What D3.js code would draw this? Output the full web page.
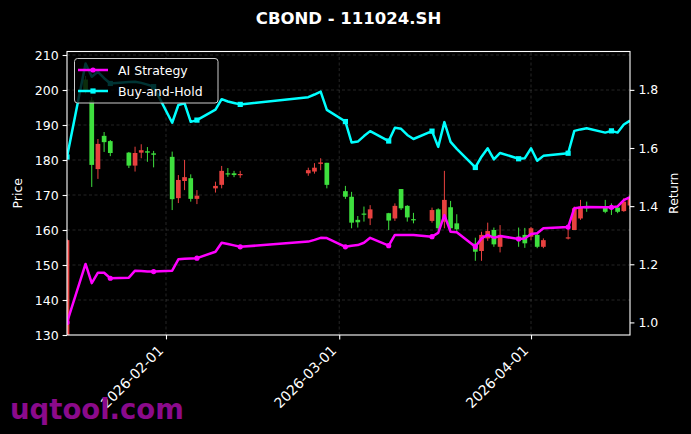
<!DOCTYPE html>
<html><head><meta charset="utf-8">
<script src="https://cdn.jsdelivr.net/npm/d3@7"></script>
<style>body{margin:0;background:#000;} svg{display:block;font-family:"DejaVu Sans",sans-serif;}</style>
</head><body>
<svg id="c" width="691" height="434"></svg>
<script>
const titleText = "CBOND - 111024.SH";
const dates = ["2026-01-16","2026-01-19","2026-01-20","2026-01-21","2026-01-22","2026-01-23",
"2026-01-26","2026-01-27","2026-01-28","2026-01-29","2026-01-30",
"2026-02-02","2026-02-03","2026-02-04","2026-02-05","2026-02-06",
"2026-02-09","2026-02-10","2026-02-11","2026-02-12","2026-02-13",
"2026-02-24","2026-02-25","2026-02-26","2026-02-27",
"2026-03-02","2026-03-03","2026-03-04","2026-03-05","2026-03-06",
"2026-03-09","2026-03-10","2026-03-11","2026-03-12","2026-03-13",
"2026-03-16","2026-03-17","2026-03-18","2026-03-19","2026-03-20",
"2026-03-23","2026-03-24","2026-03-25","2026-03-26","2026-03-27",
"2026-03-30","2026-03-31","2026-04-01","2026-04-02","2026-04-03",
"2026-04-07","2026-04-08","2026-04-09","2026-04-10",
"2026-04-13","2026-04-14","2026-04-15","2026-04-16","2026-04-17"];
const openP  = [157.1,200.0,178.6,184.6,185.1,182.0,178.4,182.0,182.8,182.1,181.5,
168.8,174.3,175.1,168.9,169.8,172.6,176.9,176.0,175.7,176.0,
177.1,177.8,179.3,172.9,169.5,162.1,162.2,164.5,165.9,
162.7,166.9,166.2,163.6,162.8,165.7,160.5,168.6,160.5,160.2,
153.8,158.6,159.7,155.9,158.6,157.4,156.2,160.5,155.2,157.1,
157.9,166.2,166.7,166.2,165.2,166.0,165.2,168.1,169.0];
const highP  = [157.5,204.0,198.0,186.0,188.0,185.7,182.3,183.8,184.5,183.7,182.6,
182.4,175.7,180.0,175.9,171.4,173.8,178.3,177.7,176.9,176.9,
177.8,179.1,180.5,179.2,172.6,170.9,164.0,166.7,167.1,
164.9,167.6,171.7,167.1,164.9,166.4,166.2,176.9,168.3,164.5,
157.8,159.5,162.1,160.7,161.4,160.7,160.6,160.9,159.1,157.6,
160.5,166.7,168.6,168.1,168.6,167.6,167.1,169.1,170.0];
const lowP   = [120.0,199.0,172.3,174.6,182.3,181.1,177.7,176.7,180.5,179.5,177.9,
165.7,167.7,171.4,168.1,167.4,170.7,171.9,175.2,175.1,174.9,
175.5,176.1,177.1,171.9,168.9,160.5,160.7,162.4,161.4,
160.0,162.6,165.7,162.4,161.9,162.1,160.0,160.5,159.5,159.5,
151.2,151.2,156.9,155.2,153.6,155.2,154.9,157.1,154.8,154.8,
157.3,160.0,162.9,165.2,164.8,164.3,164.8,165.2,166.0];
const closeP = [125.0,203.0,197.0,177.4,186.9,185.4,182.1,178.4,182.1,182.5,181.9,
180.9,169.1,174.0,174.8,168.9,171.9,172.9,176.2,176.2,175.8,
176.2,176.7,178.9,179.2,171.1,169.5,162.9,164.7,163.3,
164.8,163.3,171.7,166.9,163.1,162.6,165.9,162.4,166.5,161.9,
156.1,154.0,157.6,160.0,155.2,158.1,158.6,158.1,158.6,155.2,
157.6,160.0,163.3,166.7,166.4,166.7,166.4,165.4,167.0];
const aiReturn = [1.000,1.201,1.135,1.171,1.171,1.152,1.154,1.178,1.177,1.175,1.175,
1.178,1.217,1.219,1.220,1.221,1.243,1.274,1.270,1.265,1.260,
1.278,1.284,1.291,1.290,1.260,1.264,1.266,1.274,1.291,
1.264,1.301,1.301,1.301,1.301,1.295,1.308,1.369,1.312,1.310,
1.260,1.289,1.301,1.291,1.297,1.287,1.289,1.304,1.307,1.324,
1.328,1.393,1.395,1.397,1.396,1.396,1.399,1.421,1.431];
const bhReturn = [1.569,1.891,1.845,1.862,1.840,1.822,1.827,1.828,1.824,1.818,1.811,
1.687,1.748,1.754,1.690,1.696,1.732,1.768,1.760,1.755,1.750,
1.775,1.784,1.794,1.731,1.691,1.619,1.622,1.641,1.658,
1.624,1.670,1.666,1.645,1.631,1.658,1.604,1.689,1.621,1.597,
1.533,1.570,1.599,1.561,1.583,1.563,1.565,1.599,1.556,1.573,
1.582,1.659,1.664,1.668,1.653,1.659,1.653,1.681,1.694];
const priceTicks = [130,140,150,160,170,180,190,200,210];
const returnTicks = [1.0,1.2,1.4,1.6,1.8];
const dateTicks = ["2026-02-01","2026-03-01","2026-04-01"];
const seriesNames = ["AI Strategy","Buy-and-Hold"];
const watermark = "uqtool.com";

const parse = d3.utcParse("%Y-%m-%d");
const D = dates.map(parse);
const svg = d3.select("#c");
svg.append("rect").attr("width",691).attr("height",434).attr("fill","#000");

const L=67, R=630, T=51.5, B=335;
const x = d3.scaleUtc().domain([parse("2026-01-16"), parse("2026-04-17")]).range([L,R]);
const yP = d3.scaleLinear().domain([130,211]).range([B,T]);
const yR = d3.scaleLinear().domain([0.9567,1.932]).range([B,T]);
const fs = 12.5, fsx = 14;

svg.append("defs").append("clipPath").attr("id","clip")
  .append("rect").attr("x",L).attr("y",T).attr("width",R-L).attr("height",B-T);

// grid
const grid = svg.append("g").attr("stroke","#b0b0b0").attr("stroke-opacity",0.3)
  .attr("stroke-width",0.7).attr("stroke-dasharray","3,2.5");
priceTicks.filter(v=>v>130&&v<211).forEach(v=>grid.append("line").attr("x1",L).attr("x2",R).attr("y1",yP(v)).attr("y2",yP(v)));
dateTicks.forEach(s=>grid.append("line").attr("y1",T).attr("y2",B).attr("x1",x(parse(s))).attr("x2",x(parse(s))));

// candles
const plot = svg.append("g").attr("clip-path","url(#clip)");
const half = 0.38*86400000;
const green="#3ee03e", red="#e8413f";
D.forEach((d,i)=>{
  const up = closeP[i]>=openP[i];
  const c = up?green:red;
  const g = plot.append("g");
  g.append("line").attr("x1",x(d)).attr("x2",x(d)).attr("y1",yP(highP[i])).attr("y2",yP(lowP[i]))
    .attr("stroke",c).attr("stroke-width",1);
  const x0=x(new Date(d.getTime()-half)), x1=x(new Date(d.getTime()+half));
  const top=yP(Math.max(openP[i],closeP[i])), bot=yP(Math.min(openP[i],closeP[i]));
  g.append("rect").attr("x",x0).attr("width",x1-x0).attr("y",top).attr("height",Math.max(bot-top,1.2)).attr("fill",c);
});

// lines
const lineAI = d3.line().x((v,i)=>x(D[i])).y(v=>yR(v));
plot.append("path").attr("d",lineAI(aiReturn)).attr("fill","none").attr("stroke","#ff00ff").attr("stroke-width",2.5).attr("stroke-linejoin","round");
plot.append("path").attr("d",lineAI(bhReturn)).attr("fill","none").attr("stroke","#00ffff").attr("stroke-width",2.5).attr("stroke-linejoin","round");
aiReturn.forEach((v,i)=>{ if(i%5===0) plot.append("circle").attr("cx",x(D[i])).attr("cy",yR(v)).attr("r",2.6).attr("fill","#ff00ff"); });
bhReturn.forEach((v,i)=>{ if(i%5===0) plot.append("rect").attr("x",x(D[i])-2.6).attr("y",yR(v)-2.6).attr("width",5.2).attr("height",5.2).attr("fill","#00ffff"); });

// frame
svg.append("rect").attr("x",L).attr("y",T).attr("width",R-L).attr("height",B-T).attr("fill","none").attr("stroke","#fff").attr("stroke-width",1.1);

function styleAxis(g){
  g.select(".domain").remove();
  g.selectAll("line").attr("stroke","#fff").attr("stroke-width",1.1);
  g.selectAll("text").attr("fill","#fff").attr("font-size",fs).attr("font-family","DejaVu Sans");
}
svg.append("g").attr("transform",`translate(${L},0)`)
  .call(d3.axisLeft(yP).tickValues(priceTicks).tickSize(4.4).tickPadding(4)).call(styleAxis);
svg.append("g").attr("transform",`translate(${R},0)`)
  .call(d3.axisRight(yR).tickValues(returnTicks).tickFormat(d3.format(".1f")).tickSize(4.4).tickPadding(4)).call(styleAxis);
const xa = svg.append("g").attr("transform",`translate(0,${B})`)
  .call(d3.axisBottom(x).tickValues(dateTicks.map(parse)).tickFormat(d3.utcFormat("%Y-%m-%d")).tickSize(4.4)).call(styleAxis);
xa.selectAll("text").attr("x",0).attr("y",0).attr("dy",0).attr("text-anchor","end").attr("font-size",fsx)
  .attr("transform","translate(-2.3,16.5) rotate(-45)");

// labels
svg.append("text").attr("x",348.5).attr("y",24).attr("text-anchor","middle").attr("fill","#fff")
  .attr("font-size",16.5).attr("font-weight","bold").text(titleText);
svg.append("text").attr("transform",`translate(22,${(T+B)/2}) rotate(-90)`).attr("text-anchor","middle")
  .attr("fill","#fff").attr("font-size",fs).text("Price");
svg.append("text").attr("transform",`translate(678,${(T+B)/2}) rotate(-90)`).attr("text-anchor","middle")
  .attr("fill","#fff").attr("font-size",fs).text("Return");

// legend
const lg = svg.append("g");
lg.append("rect").attr("x",74.5).attr("y",58.5).attr("width",143.5).attr("height",44.5).attr("rx",3)
  .attr("fill","#000").attr("fill-opacity",0.8).attr("stroke","#cccccc").attr("stroke-width",1);
[[seriesNames[0],"#ff00ff",70,"c"],[seriesNames[1],"#00ffff",91,"s"]].forEach(([t,c,yy,m])=>{
  lg.append("line").attr("x1",78).attr("x2",108).attr("y1",yy).attr("y2",yy).attr("stroke",c).attr("stroke-width",2.5);
  if(m==="c") lg.append("circle").attr("cx",93).attr("cy",yy).attr("r",2.6).attr("fill",c);
  else lg.append("rect").attr("x",90.4).attr("y",yy-2.6).attr("width",5.2).attr("height",5.2).attr("fill",c);
  lg.append("text").attr("x",118).attr("y",yy+4.5).attr("fill","#fff").attr("font-size",fs).text(t);
});

// watermark
svg.append("text").attr("x",10).attr("y",419).attr("fill","#8b0a8b").attr("font-size",27.5)
  .attr("font-weight","bold").text(watermark);
</script>
</body></html>
